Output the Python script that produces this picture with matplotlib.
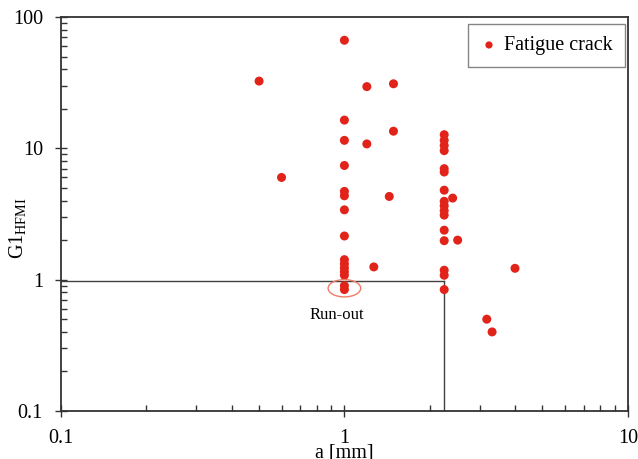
import numpy as np
import matplotlib
matplotlib.use("Agg")
import matplotlib.pyplot as plt
from matplotlib.patches import Ellipse

plt.rcParams['font.family'] = ['Liberation Serif', 'DejaVu Serif']
plt.rcParams['mathtext.fontset'] = 'custom'
plt.rcParams['mathtext.rm'] = 'Liberation Serif'

# crack depth a [mm] and G1_HFMI for each fatigue crack test
a_mm = [1.0, 1.0, 1.0, 1.0, 1.0, 1.0, 1.0, 1.0, 1.0, 1.0, 1.0, 1.0, 1.0, 1.0, 1.0,
        0.50, 0.60, 1.20, 1.49, 1.49, 1.20, 1.44, 1.27,
        2.25, 2.25, 2.25, 2.25, 2.25, 2.25, 2.25, 2.25, 2.25, 2.25, 2.25,
        2.25, 2.25, 2.25, 2.25, 2.25,
        2.41, 2.51, 4.0, 3.18, 3.32]
g1_hfmi = [66.5, 16.4, 11.5, 7.4, 4.7, 4.35, 3.4, 2.15, 1.42, 1.32, 1.23, 1.15, 1.08, 0.90, 0.84,
           32.5, 6.0, 29.5, 31.0, 13.5, 10.8, 4.3, 1.25,
           12.7, 11.5, 10.5, 9.6, 7.0, 6.6, 4.8, 3.95, 3.65, 3.35, 3.1,
           2.38, 1.98, 1.18, 1.08, 0.84,
           4.18, 2.0, 1.22, 0.50, 0.40]

# threshold lines and run-out marker
a_limit = 2.25
g1_limit = 0.97
runout_a = 1.0
runout_g1 = 0.86
runout_label_g1 = 0.54

fig = plt.figure(figsize=(6.38, 4.59), dpi=100)
ax = fig.add_axes([0.0956, 0.1046, 0.8884, 0.8584])

ax.plot([0.1, a_limit], [g1_limit, g1_limit], color='#404040', lw=1.0, zorder=1)
ax.plot([a_limit, a_limit], [0.1, g1_limit], color='#404040', lw=1.0, zorder=1)

ax.scatter(a_mm, g1_hfmi, s=42, color='#e2231a', edgecolors='none', zorder=3,
           label='Fatigue crack')

ax.set_xscale('log')
ax.set_yscale('log')
ax.set_xlim(0.1, 10)
ax.set_ylim(0.1, 100)

# ellipse around the run-out points (axes fraction: 2 decades wide, 3 decades tall)
cx = (np.log10(runout_a) + 1) / 2
cy = (np.log10(runout_g1) + 1) / 3
ell = Ellipse((cx, cy), 32.6 / 567, 17.3 / 394, transform=ax.transAxes, fill=False,
              edgecolor='#ee7b66', lw=1.0, zorder=4)
ax.add_patch(ell)
ax.text(runout_a * 0.94, runout_label_g1, 'Run-out', fontsize=12, ha='center',
        va='center', zorder=5)

ax.set_xticks([0.1, 1, 10])
ax.set_xticklabels(['0.1', '1', '10'])
ax.set_yticks([0.1, 1, 10, 100])
ax.set_yticklabels(['0.1', '1', '10', '100'])
ax.tick_params(which='major', direction='inout', length=8, width=1.0, labelsize=14.5,
               color='#333333', pad=4)
ax.tick_params(which='minor', direction='in', length=4, width=1.0, color='#333333')
ax.tick_params(axis='x', which='major', pad=9)
ax.tick_params(axis='y', which='major', pad=9)

for sp in ax.spines.values():
    sp.set_color('#333333')
    sp.set_linewidth(1.3)

ax.set_xlabel('a [mm]', fontsize=14.5)
ax.xaxis.set_label_coords(0.5, -0.083)
ax.set_ylabel(r'G1$_{\mathrm{HFMI}}$', fontsize=14.5)
ax.yaxis.set_label_coords(-0.056, 0.465)

leg = ax.legend(loc='upper right', bbox_to_anchor=(0.9947, 0.982), fontsize=14.5,
                frameon=True, fancybox=False, edgecolor='#666666', markerscale=0.8,
                handletextpad=0.3, borderaxespad=0.0, handlelength=0.9, borderpad=0.6)
leg.get_frame().set_linewidth(1.0)

fig.savefig('out.png', dpi=100)
